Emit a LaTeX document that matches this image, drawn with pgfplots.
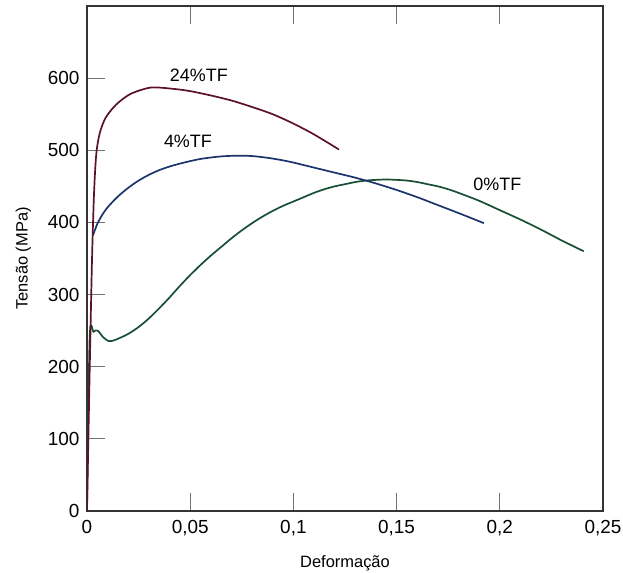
\documentclass[border=0pt]{standalone}
\usepackage{fontspec}
\setmainfont{Liberation Sans}
\usepackage{pgfplots}
\pgfplotsset{compat=1.18}
\definecolor{c24}{RGB}{92,18,36}
\definecolor{c4}{RGB}{28,52,108}
\definecolor{c0}{RGB}{24,78,52}
\begin{document}
\begin{tikzpicture}
\begin{axis}[
  at={(0,0)}, anchor=south west,
  scale only axis, width=516bp, height=505bp,
  xmin=0, xmax=0.25, ymin=0, ymax=700,
  xtick={0,0.05,0.1,0.15,0.2,0.25},
  xticklabels={0,{0,05},{0,1},{0,15},{0,2},{0,25}},
  ytick={0,100,200,300,400,500,600},
  /pgf/number format/assume math mode=true,
  tick align=inside, xtick pos=both, ytick pos=left,
  major tick length=18bp,
  axis line style={black!80, line width=1.4bp},
  tick style={black!55, line width=0.9bp},
  ticklabel style={font=\fontsize{19}{22}\selectfont},
  xticklabel style={yshift=-6bp},
  yticklabel style={xshift=-4bp},
  xlabel={Deformação}, ylabel={Tensão (MPa)},
  label style={font=\fontsize{16.5}{19}\selectfont},
  xlabel shift=13bp, ylabel shift=10bp,
  every axis plot/.append style={line width=1.7bp, no markers},
]
\addplot[c0, smooth, tension=0.5] coordinates {
 (0,0) (0.0013,240) (0.0032,248.5) (0.0052,250) (0.0078,241) (0.0105,235.5)
 (0.013,236.5) (0.016,240) (0.020,245.5) (0.025,255) (0.030,267) (0.035,281) (0.040,296)
 (0.045,312) (0.050,327) (0.055,341) (0.060,354) (0.065,366) (0.070,378)
 (0.075,389) (0.080,399) (0.085,408) (0.090,416) (0.095,423) (0.100,429)
 (0.105,435) (0.110,441) (0.115,446) (0.120,450) (0.125,453) (0.130,456)
 (0.135,458) (0.140,459) (0.145,459.5) (0.150,459) (0.155,458) (0.160,456)
 (0.165,453) (0.170,450) (0.175,446) (0.180,441) (0.190,430) (0.200,417)
 (0.210,404) (0.220,390) (0.230,375) (0.2407,360)};
\addplot[c4, smooth, tension=0.5] coordinates {
 (0.0029,382) (0.005,398) (0.0075,411) (0.010,421) (0.015,436) (0.020,448)
 (0.025,458) (0.030,466) (0.035,472.5) (0.040,477.5) (0.045,481.5) (0.050,485)
 (0.055,488) (0.060,490) (0.065,491.5) (0.070,492.3) (0.075,492.5)
 (0.080,492) (0.085,490.5) (0.090,488.5) (0.095,486) (0.100,483)
 (0.110,476) (0.120,469) (0.130,462) (0.140,454) (0.150,445) (0.160,435)
 (0.170,424) (0.180,413) (0.1923,399)};
\addplot[c24, smooth, tension=0.45] coordinates {
 (0,0) (0.0012,180) (0.0024,345) (0.0034,440) (0.0045,495) (0.0062,524)
 (0.0090,545) (0.0140,563) (0.0210,578) (0.0310,587) (0.0423,585)
 (0.050,582) (0.060,576) (0.070,569) (0.080,560) (0.090,550) (0.100,537)
 (0.110,522) (0.1221,501)};
\node[font=\fontsize{18}{21}\selectfont] at (axis cs:0.0542,604) {24\%TF};
\node[font=\fontsize{18}{21}\selectfont] at (axis cs:0.0489,513) {4\%TF};
\node[font=\fontsize{18}{21}\selectfont] at (axis cs:0.1988,453) {0\%TF};
\end{axis}
\pgfresetboundingbox
\useasboundingbox (-87bp,-62bp) rectangle (536bp,511bp);
\end{tikzpicture}
\end{document}
